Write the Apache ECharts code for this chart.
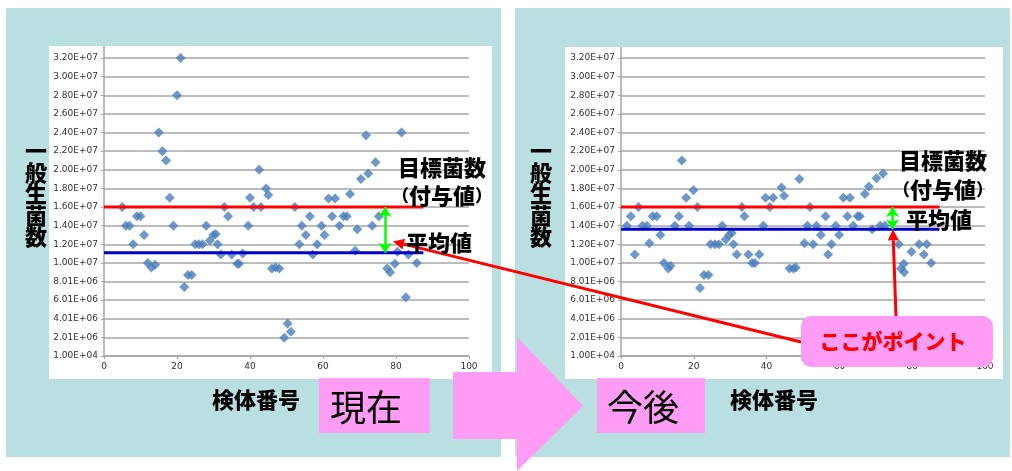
<!DOCTYPE html>
<html><head><meta charset="utf-8">
<script src="https://cdn.jsdelivr.net/npm/echarts@6/dist/echarts.min.js"></script>
<style>html,body{margin:0;padding:0;background:#fff;}#c{width:1012px;height:471px;}</style>
</head><body><div id="c"></div>
<script>
// ---- data ----
const yTickLabels = ['1.00E+04','2.01E+06','4.01E+06','6.01E+06','8.01E+06','1.00E+07','1.20E+07','1.40E+07','1.60E+07','1.80E+07','2.00E+07','2.20E+07','2.40E+07','2.60E+07','2.80E+07','3.00E+07','3.20E+07'];
const xTickStep = 20;
const targetCount = 16.0e6;   // 目標菌数（付与値）
const currentMean = 11.1e6;   // 平均値（現在）
const futureMean = 13.6e6;    // 平均値（今後）
const refLineEndX = 87.5;
const currentArrowX = 77;
const futureArrowX = 74.6;

const currentData = [
 [5,16.0e6],[6,14.0e6],[7,14.0e6],[8,12.0e6],[9,15.0e6],[10,15.0e6],[11,13.0e6],[12,10.0e6],[13,9.5e6],[14,9.8e6],
 [15,24.0e6],[16,22.0e6],[17,21.0e6],[18,17.0e6],[19,14.0e6],[20,28.0e6],[21,32.0e6],[22,7.4e6],[23,8.7e6],[24,8.7e6],
 [25,12.0e6],[26,12.0e6],[27,12.0e6],[28,14.0e6],[29,12.4e6],[30,13.0e6],[30.6,13.1e6],[31.1,12.0e6],[32,10.9e6],[33,16.0e6],
 [34,15.0e6],[35,10.9e6],[36.5,9.9e6],[37,9.9e6],[38,11.0e6],[39.5,14.0e6],[40,17.0e6],[41,16.0e6],[42.5,20.0e6],[43,16.0e6],
 [44.4,18.0e6],[45,17.3e6],[46,9.4e6],[47,9.5e6],[48,9.4e6],[49.4,1.95e6],[50.3,3.5e6],[51.2,2.6e6],[52.3,16.0e6],[53.5,12.0e6],
 [54.2,14.0e6],[55.3,13.0e6],[56.4,15.0e6],[57.2,10.9e6],[58.4,12.0e6],[59.6,14.0e6],[60.4,13.0e6],[61.5,16.9e6],[62.5,15.0e6],[63.3,16.9e6],
 [64.5,14.0e6],[65.6,15.0e6],[66.5,15.0e6],[67.4,17.4e6],[68.8,11.3e6],[69.4,13.6e6],[70.4,19.0e6],[71.8,23.7e6],[72.4,19.6e6],[73.5,14.0e6],
 [74.4,20.8e6],[75.3,15.0e6],[77.6,9.4e6],[78.4,9.0e6],[79.7,9.9e6],[80.4,11.2e6],[81.5,24.0e6],[82.7,6.3e6],[83.4,10.9e6],[85.7,10.0e6]
];
const futureData = [
 [1.6,14.0e6],[2.7,15.0e6],[3.8,10.9e6],[4.8,16.0e6],[5.9,14.0e6],[7.1,14.0e6],[7.8,12.1e6],[8.7,15.0e6],[9.8,15.0e6],[10.8,13.0e6],
 [11.8,10.0e6],[13,9.4e6],[13.6,9.7e6],[14.8,14.0e6],[15.9,15.0e6],[16.7,21.0e6],[17.9,17.0e6],[18.7,14.0e6],[19.9,17.8e6],[21,16.0e6],
 [21.7,7.3e6],[22.8,8.7e6],[24,8.7e6],[24.6,12.0e6],[25.8,12.0e6],[26.9,12.0e6],[27.8,14.0e6],[28.8,12.5e6],[29.7,13.0e6],[30.4,13.2e6],
 [30.9,12.0e6],[31.8,10.9e6],[33.2,16.0e6],[33.9,15.0e6],[35,10.9e6],[36,10.0e6],[36.8,10.0e6],[38,10.9e6],[39.1,14.0e6],[39.7,17.0e6],
 [40.9,16.0e6],[41.8,17.0e6],[44.1,18.1e6],[44.8,17.2e6],[46.3,9.4e6],[47.4,9.4e6],[48,9.5e6],[49,19.0e6],[50.4,12.1e6],[51.2,14.0e6],
 [51.9,16.0e6],[52.8,12.0e6],[53.7,14.0e6],[54.9,13.0e6],[56.2,15.0e6],[56.9,10.9e6],[57.8,12.0e6],[59,14.0e6],[59.9,13.0e6],[61.1,17.0e6],
 [62.2,15.0e6],[62.9,17.0e6],[63.8,14.0e6],[65,15.0e6],[65.6,15.0e6],[67,17.4e6],[68.1,18.2e6],[69,13.6e6],[70.2,19.1e6],[71.2,14.0e6],
 [72,19.6e6],[72.5,14.0e6],[76.3,12.0e6],[76.9,9.4e6],[77.8,9.0e6],[77.7,9.9e6],[79.8,11.2e6],[81.9,12.0e6],[83.2,10.9e6],[84,12.0e6],[85.2,10.0e6]
];

// ---- styling ----
const JP = "'Noto Sans CJK JP','Noto Sans CJK SC',sans-serif";
const PINK = '#FF9CF6';
const TEAL = '#B9DFE1';
const GRID = '#A6A6A6';

const chart = echarts.init(document.getElementById('c'), null, {renderer:'canvas'});

function xAxisCfg(i){ return {gridIndex:i, type:'value', min:0, max:100, interval:xTickStep,
  splitLine:{show:false}, axisLine:{show:true,lineStyle:{color:GRID,width:1.5}},
  axisTick:{show:true,length:3,lineStyle:{color:GRID}},
  axisLabel:{fontSize:9,color:'#333',fontFamily:'DejaVu Sans',margin:6}}; }
function yAxisCfg(i){ return {gridIndex:i, type:'value', min:0, max:32e6, interval:2e6,
  axisLine:{show:true,lineStyle:{color:GRID,width:1.5}},
  axisTick:{show:true,length:3,lineStyle:{color:GRID}},
  splitLine:{show:true,lineStyle:{color:GRID,width:1.6}},
  axisLabel:{fontSize:9,color:'#333',fontFamily:'DejaVu Sans',margin:6,
    formatter:v=>yTickLabels[Math.round(v/2e6)]}}; }
function panelSeries(i, data, mean, arrowX){
  return [
    {type:'scatter', xAxisIndex:i, yAxisIndex:i, data:data, symbol:'diamond', symbolSize:10,
     itemStyle:{color:'#4A7EBB'}, z:3, silent:true},
    {type:'line', xAxisIndex:i, yAxisIndex:i, data:[[0,targetCount],[refLineEndX,targetCount]],
     symbol:'none', lineStyle:{color:'#FF0000',width:3}, z:4, silent:true},
    {type:'line', xAxisIndex:i, yAxisIndex:i, data:[[0,mean],[refLineEndX,mean]],
     symbol:'none', lineStyle:{color:'#0000CC',width:3}, z:4, silent:true,
     markLine:{silent:true, animation:false, symbol:['arrow','arrow'], symbolSize:[10,10],
       label:{show:false}, lineStyle:{color:'#00FF00',width:2.5,type:'solid'},
       data:[[{coord:[arrowX,targetCount]},{coord:[arrowX,mean]}]]}}
  ];
}

function txt(text, x, y, size, opts){
  return Object.assign({type:'text', z:120, style:Object.assign({text:text, x:x, y:y,
    fontSize:size, fontFamily:JP, fontWeight:900, fill:'#000', align:'center', verticalAlign:'middle'}, (opts||{}))});
}

const baseGraphics = [
  {type:'rect', z:-20, shape:{x:6,y:8,width:495,height:449}, style:{fill:TEAL}},
  {type:'rect', z:-20, shape:{x:515,y:8,width:495,height:449}, style:{fill:TEAL}},
  {type:'rect', z:-19, shape:{x:49,y:46,width:443,height:333}, style:{fill:'#fff'}},
  {type:'rect', z:-19, shape:{x:565,y:47,width:438,height:332}, style:{fill:'#fff'}},
  // big pink arrow
  {type:'polygon', z:50, shape:{points:[[453,372],[517,372],[517,337],[583,406],[517,471],[517,439],[453,439]]}, style:{fill:PINK}},
  // 現在 / 今後 boxes
  {type:'rect', z:50, shape:{x:319,y:378,width:111,height:55}, style:{fill:PINK}},
  {type:'rect', z:50, shape:{x:597,y:378,width:108,height:55}, style:{fill:PINK}},
  txt('現在', 330, 407, 36, {fontWeight:'normal', align:'left'}),
  txt('今後', 607, 407, 36, {fontWeight:'normal', align:'left'}),
  // axis titles
  txt('検体番号', 256, 400, 22),
  txt('検体番号', 774, 400, 22),
  txt('一\n般\n生\n菌\n数', 36, 140, 22, {verticalAlign:'top', lineHeight:21.5}),
  txt('一\n般\n生\n菌\n数', 541, 140, 22, {verticalAlign:'top', lineHeight:21.5}),
  // annotations
  txt('目標菌数', 442, 168, 22),
  txt('{p|（}付与値{p|）}', 442, 196, 22, {rich:{p:{fontSize:17,fontFamily:JP,fontWeight:900}}}),
  txt('平均値', 439, 243, 22),
  txt('目標菌数', 943, 161, 22),
  txt('{p|（}付与値{p|）}', 943, 190, 22, {rich:{p:{fontSize:17,fontFamily:JP,fontWeight:900}}}),
  txt('平均値', 939, 220, 22)
];

const option = {
  animation:false,
  backgroundColor:'#fff',
  grid:[{left:104,right:543,top:58,bottom:115},{left:621,right:27,top:58,bottom:115}],
  xAxis:[xAxisCfg(0), xAxisCfg(1)],
  yAxis:[yAxisCfg(0), yAxisCfg(1)],
  series:[].concat(panelSeries(0,currentData,currentMean,currentArrowX), panelSeries(1,futureData,futureMean,futureArrowX)),
  graphic:{elements:baseGraphics}
};
chart.setOption(option);

// ---- callout arrows, anchored to the chart scales ----
function arrowEls(sx, sy, tx, ty){
  const dx = tx - sx, dy = ty - sy, len = Math.hypot(dx, dy);
  const ux = dx/len, uy = dy/len, nx = -uy, ny = ux, L = 11, W = 5.5;
  const bx = tx - ux*L, by = ty - uy*L;
  return [
    {type:'line', z:110, shape:{x1:sx,y1:sy,x2:bx,y2:by}, style:{stroke:'#FF0000',lineWidth:3}},
    {type:'polygon', z:110, shape:{points:[[tx,ty],[bx+nx*W,by+ny*W],[bx-nx*W,by-ny*W]]}, style:{fill:'#FF0000'}}
  ];
}
const tipL = chart.convertToPixel({gridIndex:0}, [79.2, 12.3e6]);
const tipR = chart.convertToPixel({gridIndex:1}, [74.7, futureMean]);
const topL = chart.convertToPixel({gridIndex:0}, [0, 32e6]);
const topR = chart.convertToPixel({gridIndex:1}, [0, 32e6]);
const extra = [].concat(
  [{type:'line', z:5, shape:{x1:topL[0],y1:46,x2:topL[0],y2:topL[1]}, style:{stroke:GRID,lineWidth:1.5}},
   {type:'line', z:5, shape:{x1:topR[0],y1:47,x2:topR[0],y2:topR[1]}, style:{stroke:GRID,lineWidth:1.5}}],
  arrowEls(801, 342, tipL[0], tipL[1]),
  arrowEls(896, 316, tipR[0], tipR[1]),
  [{type:'rect', z:115, shape:{x:801,y:316,width:192,height:51,r:10}, style:{fill:PINK}},
   txt('ここがポイント', 893, 341, 21, {fill:'#FF0000'})]
);
chart.setOption({graphic:{elements:baseGraphics.concat(extra)}}, {replaceMerge:['graphic']});
</script></body></html>
